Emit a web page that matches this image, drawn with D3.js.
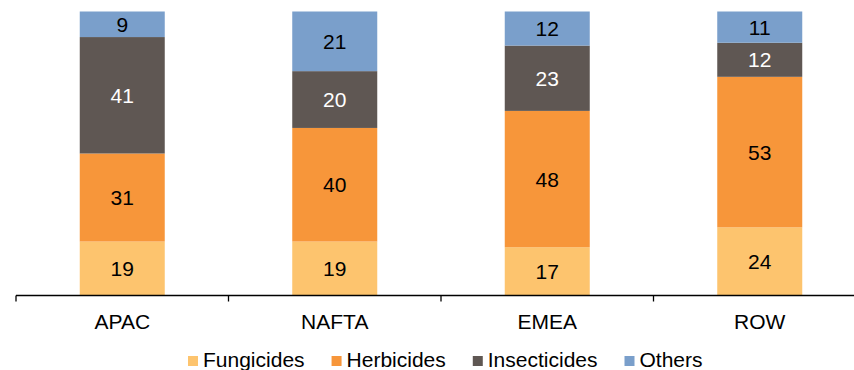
<!DOCTYPE html>
<html>
<head>
<meta charset="utf-8">
<script src="https://cdn.jsdelivr.net/npm/d3@7"></script>
<style>
  html, body { margin: 0; padding: 0; background: #fff; }
  svg { display: block; font-family: "Liberation Sans", Arial, sans-serif; }
</style>
</head>
<body>
<svg id="chart" width="854" height="370"></svg>
<script>
// Crop protection market split by region (%)
const regions = ["APAC", "NAFTA", "EMEA", "ROW"];
const seriesNames = ["Fungicides", "Herbicides", "Insecticides", "Others"];
const fungicides = [19, 19, 17, 24];
const herbicides = [31, 40, 48, 53];
const insecticides = [41, 20, 23, 12];
const others = [9, 21, 12, 11];
const seriesColors = ["#FDC46E", "#F7963A", "#5F5753", "#7A9FCB"];
const labelColors = ["#000", "#000", "#fff", "#000"];

const rows = regions.map((r, i) => ({
  region: r,
  Fungicides: fungicides[i],
  Herbicides: herbicides[i],
  Insecticides: insecticides[i],
  Others: others[i]
}));

const svg = d3.select("#chart");
const axisY = 295.5;
const fontSize = 21;

const x = d3.scaleBand()
  .domain(regions)
  .range([16, 866])
  .paddingInner(0.6)
  .paddingOuter(0.3);

const y = d3.scaleLinear()
  .domain([0, 100])
  .range([axisY, 11.5]);

const stacked = d3.stack().keys(seriesNames)(rows);

const layers = svg.append("g")
  .selectAll("g")
  .data(stacked)
  .join("g")
  .attr("fill", (d, i) => seriesColors[i]);

layers.selectAll("rect")
  .data(d => d)
  .join("rect")
  .attr("x", d => x(d.data.region))
  .attr("width", x.bandwidth())
  .attr("y", d => y(d[1]))
  .attr("height", d => y(d[0]) - y(d[1]));

// Segment value labels
svg.append("g")
  .selectAll("g")
  .data(stacked)
  .join("g")
  .attr("fill", (d, i) => labelColors[i])
  .selectAll("text")
  .data(d => d.map(p => ({ p, key: d.key })))
  .join("text")
  .attr("x", d => x(d.p.data.region) + x.bandwidth() / 2)
  .attr("y", d => (y(d.p[0]) + y(d.p[1])) / 2)
  .attr("dy", "0.36em")
  .attr("text-anchor", "middle")
  .attr("font-size", fontSize)
  .text(d => d.p.data[d.key]);

// Category axis with ticks on band boundaries
const step = x.step();
const boundaries = d3.range(regions.length + 1).map(i => 16 + i * step);
const axisG = svg.append("g");
axisG.append("line")
  .attr("x1", 16).attr("x2", 866)
  .attr("y1", axisY).attr("y2", axisY)
  .attr("stroke", "#000").attr("stroke-width", 1.3);
axisG.selectAll("line.tick")
  .data(boundaries)
  .join("line")
  .attr("class", "tick")
  .attr("x1", d => d).attr("x2", d => d)
  .attr("y1", axisY).attr("y2", axisY + 6)
  .attr("stroke", "#000").attr("stroke-width", 1.3);
axisG.selectAll("text")
  .data(regions)
  .join("text")
  .attr("x", d => x(d) + x.bandwidth() / 2)
  .attr("y", 329)
  .attr("text-anchor", "middle")
  .attr("font-size", fontSize)
  .attr("fill", "#000")
  .text(d => d);

// Legend row
const legend = svg.append("g");
const items = legend.selectAll("g")
  .data(seriesNames)
  .join("g");
items.append("rect")
  .attr("width", 10).attr("height", 10)
  .attr("y", 356)
  .attr("fill", (d, i) => seriesColors[i]);
items.append("text")
  .attr("x", 15)
  .attr("y", 366.5)
  .attr("font-size", fontSize)
  .attr("fill", "#000")
  .text(d => d);
let cursor = 188;
const offsets = [];
items.each(function() {
  offsets.push(cursor);
  const w = d3.select(this).select("text").node().getComputedTextLength();
  cursor += 15 + w + 27;
});
items.attr("transform", (d, i) => `translate(${offsets[i]},0)`);
</script>
</body>
</html>
